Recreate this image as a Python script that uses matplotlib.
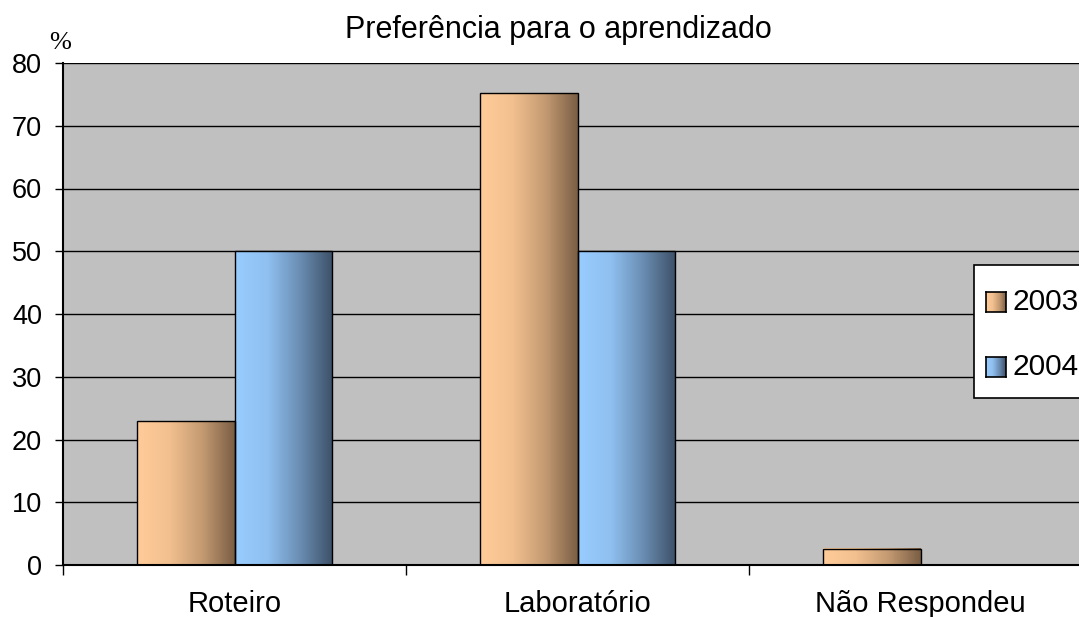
import numpy as np
import matplotlib.pyplot as plt
from matplotlib.colors import LinearSegmentedColormap
from matplotlib.patches import Rectangle

categories = ['Roteiro', 'Laboratório', 'Não Respondeu']
years = ['2003', '2004']
v2003 = [22.9, 75.2, 2.6]
v2004 = [50.0, 50.0, 0.0]

plt.rcParams['font.family'] = ['Liberation Sans', 'DejaVu Sans']

cmap_or = LinearSegmentedColormap.from_list('or', ['#FFCC99', '#F2C08F', '#C49A72', '#7A5E45'])
cmap_bl = LinearSegmentedColormap.from_list('bl', ['#99CCFF', '#8FC0F0', '#6A8DB2', '#3D5068'])
grad = np.linspace(0, 1, 256).reshape(1, -1)

fig = plt.figure(figsize=(10.79, 6.17), dpi=100)
W, H = 1079, 617
ax = fig.add_axes([63 / W, 52 / H, 1029 / W, 502 / H])
ax.set_facecolor('#C0C0C0')
for yv in range(10, 81, 10):
    ax.axhline(yv, color='black', lw=1, zorder=1)

bw = 0.283
x = np.arange(len(categories)) + 0.5
for vals, cm, off in [(v2003, cmap_or, -1), (v2004, cmap_bl, 0)]:
    for xi, v in zip(x, vals):
        if v <= 0:
            continue
        x0 = xi + off * bw
        ax.imshow(grad, cmap=cm, aspect='auto', extent=(x0, x0 + bw, 0, v), zorder=2)
        ax.add_patch(Rectangle((x0, 0), bw, v, fill=False, ec='black', lw=1, zorder=3))
ax.set_xlim(0, 3)
ax.set_ylim(0, 80)

ax.set_yticks(range(0, 81, 10))
ax.set_xticks([0, 1, 2])
ax.set_xticklabels([])
ax.set_xticks(x, minor=True)
ax.set_xticklabels(categories, minor=True)
ax.tick_params(axis='x', which='minor', length=0, pad=18, labelsize=21)
ax.tick_params(axis='x', which='major', length=7, width=1, direction='out')
ax.tick_params(axis='y', length=6, width=1, direction='out', labelsize=19.5, pad=9)
for s in ['top', 'right']:
    ax.spines[s].set_visible(False)
ax.spines['left'].set_linewidth(1.5)
ax.spines['bottom'].set_linewidth(1.5)

fig.text(558 / W, 1 - 30 / H, 'Preferência para o aprendizado', ha='center', va='center', fontsize=22)
fig.text(60 / W, 1 - 43 / H, '%', ha='center', va='center', fontsize=19, family='Liberation Serif')

# legend
fig.patches.append(Rectangle((974 / W, 1 - 398 / H), 120 / W, 133 / H, transform=fig.transFigure,
                             fc='white', ec='black', lw=1.2, zorder=5))
for i, (yr, cm) in enumerate(zip(years, [cmap_or, cmap_bl])):
    yc = 302 + i * 65
    lax = fig.add_axes([986 / W, 1 - (yc + 10) / H, 20 / W, 20 / H], zorder=6)
    lax.imshow(grad, cmap=cm, aspect='auto')
    lax.set_xticks([])
    lax.set_yticks([])
    for s in lax.spines.values():
        s.set_linewidth(1.2)
    fig.text(1012 / W, 1 - yc / H, yr, ha='left', va='center', fontsize=21.5, zorder=7)

fig.savefig('out.png', dpi=100)
